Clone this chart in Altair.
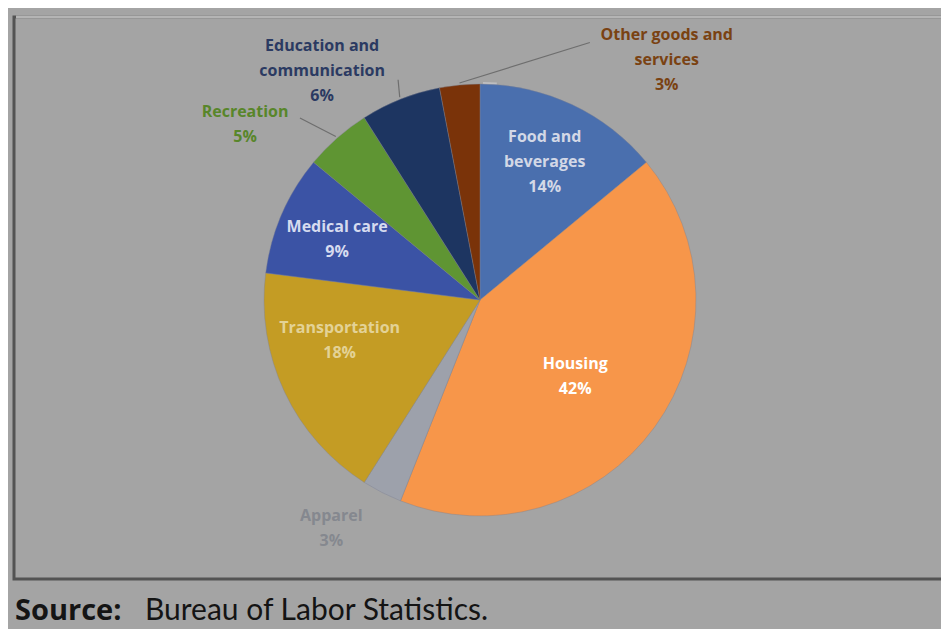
import math
import altair as alt
import pandas as pd

# ---- data ----
categories = ["Food and beverages", "Housing", "Apparel", "Transportation",
              "Medical care", "Recreation", "Education and communication",
              "Other goods and services"]
shares = [14, 42, 3, 18, 9, 5, 6, 3]
label_texts = ["Food and\nbeverages\n14%", "Housing\n42%", "Apparel\n3%",
               "Transportation\n18%", "Medical care\n9%", "Recreation\n5%",
               "Education and\ncommunication\n6%", "Other goods and\nservices\n3%"]

# ---- styles ----
slice_colors = ["#4a6fae", "#f7964a", "#9da1ab", "#c49c24",
                "#3b53a5", "#5f9533", "#1d3561", "#7a3309"]
label_colors = ["#d3d8e6", "#ffffff", "#85888f", "#e3d296",
                "#d6dbef", "#58862a", "#2b3a62", "#7a4212"]
label_angle_shift = [0, 2.7, 6, 9.2, -0.6, -11.9, -13, 43.3]
label_radius = [152, 122, 273, 146, 155, 293, 278, 304]
leader_cats = ["Recreation", "Education and communication", "Other goods and services"]
leader_angle_shift = [-3.3, 1.2, 28.5]
leader_radius = [256, 235, 280]

CX, CY, R = 472, 292, 216
LINE_H = 25

total = sum(shares)
mids = []
acc = 0
for s in shares:
    mids.append((acc + s / 2) / total * 360)
    acc += s

lab_x, lab_y = [], []
for m, d, r, t in zip(mids, label_angle_shift, label_radius, label_texts):
    a = math.radians(m + d)
    n = t.count("\n") + 1
    lab_x.append(CX + r * math.sin(a))
    lab_y.append(CY - r * math.cos(a) - (n - 1) * LINE_H / 2)

df = pd.DataFrame({
    "idx": list(range(len(categories))),
    "category": categories,
    "share": shares,
    "label": label_texts,
    "lx": lab_x,
    "ly": lab_y,
})

rows = []
for c, da, r in zip(leader_cats, leader_angle_shift, leader_radius):
    m = mids[categories.index(c)]
    a0 = math.radians(m)
    a1 = math.radians(m + da)
    rows.append({
        "category": c,
        "x1": CX + (R + 2) * math.sin(a0), "y1": CY - (R + 2) * math.cos(a0),
        "x2": CX + r * math.sin(a1), "y2": CY - r * math.cos(a1),
    })
leaders = pd.DataFrame(rows)

one = pd.DataFrame({"v": [1]})

halo = alt.Chart(one).mark_arc(
    outerRadius=R + 5, fill="#c9c9cc", opacity=0.7
).encode(theta=alt.Theta("v:Q"), x=alt.value(CX + 3), y=alt.value(CY + 3))

pie = alt.Chart(df).mark_arc(outerRadius=R, stroke="#7f8290", strokeWidth=0.4).encode(
    theta=alt.Theta("share:Q", stack=True),
    color=alt.Color("category:N", scale=alt.Scale(domain=categories, range=slice_colors), legend=None),
    order=alt.Order("idx:Q"),
    x=alt.value(CX), y=alt.value(CY),
)

labels = alt.Chart(df).mark_text(
    font="Open Sans", fontSize=16, fontWeight="bold", lineBreak="\n", lineHeight=LINE_H,
    align="center", baseline="middle"
).encode(
    text="label:N",
    x=alt.X("lx:Q", scale=None),
    y=alt.Y("ly:Q", scale=None),
    fill=alt.Fill("category:N", scale=alt.Scale(domain=categories, range=label_colors), legend=None),
)

leader_lines = alt.Chart(leaders).mark_rule(strokeWidth=1.2, color="#6e6e6e").encode(
    x=alt.X("x1:Q", scale=None), y=alt.Y("y1:Q", scale=None),
    x2="x2:Q", y2="y2:Q",
)

frame = alt.Chart(one).mark_rect(
    fill="#a6a6a6", fillOpacity=0, stroke="#535353", strokeWidth=3
).encode(x=alt.value(6), x2=alt.value(939), y=alt.value(9), y2=alt.value(571))

frame_top = alt.Chart(one).mark_rule(color="#b4b4b4", strokeWidth=3).encode(
    x=alt.value(8), x2=alt.value(939), y=alt.value(9)
)

src_bold = alt.Chart(pd.DataFrame({"t": ["Source:"]})).mark_text(
    font="Open Sans", fontSize=29, fontWeight="bold", align="left", baseline="alphabetic", color="#141414"
).encode(text="t:N", x=alt.value(7), y=alt.value(612))

src_reg = alt.Chart(pd.DataFrame({"t": ["Bureau of Labor Statistics."]})).mark_text(
    font="Lato", fontSize=30, align="left", baseline="alphabetic", color="#141414"
).encode(text="t:N", x=alt.value(137), y=alt.value(612))

chart = alt.layer(frame, frame_top, halo, pie, leader_lines, labels, src_bold, src_reg).resolve_scale(
    color="independent", fill="independent"
).properties(
    width=933, height=621,
    autosize=alt.AutoSizeParams(type="fit", contains="padding"),
    padding=0,
    background="#a4a4a4",
).configure_view(strokeWidth=0)

chart.save("out.html", embed_options={"renderer": "svg", "actions": False})
